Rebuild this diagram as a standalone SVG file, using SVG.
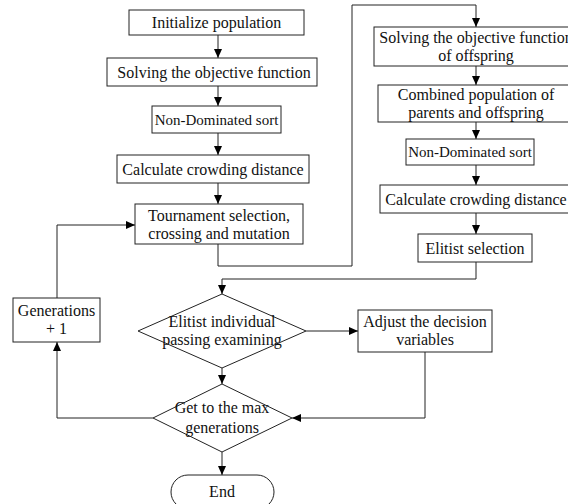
<svg xmlns="http://www.w3.org/2000/svg" width="568" height="504" viewBox="0 0 568 504">
<defs>
<marker id="arr" markerWidth="9" markerHeight="8" refX="9" refY="4" orient="auto" markerUnits="userSpaceOnUse">
<path d="M0,0 L9,4 L0,8 z" fill="#000"/>
</marker>
<style>
.box{fill:#fff;stroke:#222;stroke-width:1}
.t{font-family:"Liberation Serif","Times New Roman","DejaVu Serif",serif;font-size:16px;fill:#111;text-anchor:middle}
.s{font-size:15px}
.c{fill:none;stroke:#222;stroke-width:1}
</style>
</defs>
<rect width="568" height="504" fill="#fff"/>
<g id="connectors">
<path class="c" d="M218 35 V58" marker-end="url(#arr)"/>
<path class="c" d="M218 86 V106" marker-end="url(#arr)"/>
<path class="c" d="M218 133 V155" marker-end="url(#arr)"/>
<path class="c" d="M218 183 V204" marker-end="url(#arr)"/>
<path class="c" d="M218 244 V266 H352 V5 H476 V27" marker-end="url(#arr)"/>
<path class="c" d="M476 66 V85" marker-end="url(#arr)"/>
<path class="c" d="M476 122 V139" marker-end="url(#arr)"/>
<path class="c" d="M476 165 V185" marker-end="url(#arr)"/>
<path class="c" d="M476 213 V234" marker-end="url(#arr)"/>
<path class="c" d="M476 262 V279 H222 V294" marker-end="url(#arr)"/>
<path class="c" d="M306 331 H358" marker-end="url(#arr)"/>
<path class="c" d="M222 368 V384" marker-end="url(#arr)"/>
<path class="c" d="M425 352 V418 H292" marker-end="url(#arr)"/>
<path class="c" d="M153 418 H57 V342" marker-end="url(#arr)"/>
<path class="c" d="M57 298 V225 H135" marker-end="url(#arr)"/>
<path class="c" d="M222 452 V475" marker-end="url(#arr)"/>
</g>
<g id="init"><rect class="box" x="129" y="10" width="175" height="25"/><text class="t" x="216.5" y="28">Initialize population</text></g>
<g id="solve"><rect class="box" x="107" y="58" width="210" height="28"/><text class="t" x="214" y="77.5">Solving the objective function</text></g>
<g id="nds1"><rect class="box" x="152" y="106" width="129" height="27"/><text class="t s" x="216.5" y="124.5">Non-Dominated sort</text></g>
<g id="calc1"><rect class="box" x="117" y="155" width="192" height="28"/><text class="t" x="213" y="174.5">Calculate crowding distance</text></g>
<g id="tournament"><rect class="box" x="135" y="204" width="168" height="40"/><text class="t" x="219" y="221">Tournament selection,</text><text class="t" x="219" y="239">crossing and mutation</text></g>
<g id="offspring"><rect class="box" x="374" y="27" width="204" height="39"/><text class="t" x="476" y="43">Solving the objective function</text><text class="t" x="476" y="61">of offspring</text></g>
<g id="combined"><rect class="box" x="378" y="85" width="196" height="37"/><text class="t" x="476" y="100">Combined population of</text><text class="t" x="476" y="118">parents and offspring</text></g>
<g id="nds2"><rect class="box" x="406" y="139" width="128" height="26"/><text class="t s" x="470" y="157">Non-Dominated sort</text></g>
<g id="calc2"><rect class="box" x="380" y="185" width="192" height="28"/><text class="t" x="476" y="204.5">Calculate crowding distance</text></g>
<g id="elitist"><rect class="box" x="418" y="234" width="114" height="28"/><text class="t" x="475" y="253.5">Elitist selection</text></g>
<g id="examine"><polygon class="box" points="222,294 306,331 222,368 138,331"/><text class="t" x="222" y="327">Elitist individual</text><text class="t" x="222" y="345">passing examining</text></g>
<g id="adjust"><rect class="box" x="358" y="310" width="134" height="42"/><text class="t" x="425" y="327">Adjust the decision</text><text class="t" x="425" y="345">variables</text></g>
<g id="maxgen"><polygon class="box" points="222,384 292,418 222,452 153,418"/><text class="t" x="222" y="413">Get to the max</text><text class="t" x="222" y="433">generations</text></g>
<g id="generations"><rect class="box" x="13" y="298" width="87" height="44"/><text class="t" x="56.5" y="316">Generations</text><text class="t" x="56.5" y="334">+ 1</text></g>
<g id="end"><rect class="box" x="171" y="475" width="103" height="34" rx="17"/><text class="t" x="222" y="497">End</text></g>
</svg>
